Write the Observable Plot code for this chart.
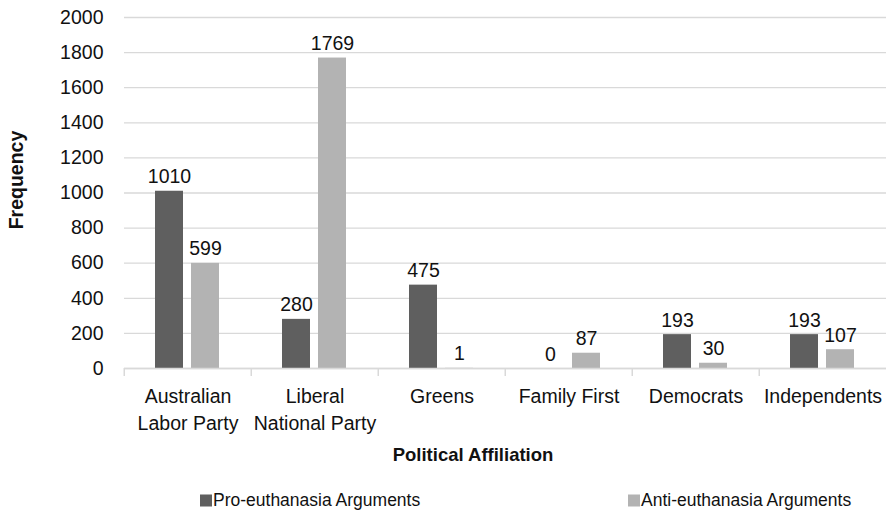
<!DOCTYPE html>
<html>
<head>
<meta charset="utf-8">
<script src="https://cdn.jsdelivr.net/npm/d3@7"></script>
<script src="https://cdn.jsdelivr.net/npm/@observablehq/plot@0.6"></script>
<style>
  html, body { margin: 0; padding: 0; background: #fff; }
  #wrap { position: relative; width: 887px; height: 517px; font-family: "Liberation Sans", Arial, sans-serif; color: #111; }
  #chart svg { display: block; }
  .ylab { position: absolute; left: 16px; top: 180px; transform: translate(-50%, -50%) rotate(-90deg); font-weight: bold; font-size: 19.5px; white-space: nowrap; }
  .xlab { position: absolute; left: 473px; top: 455px; transform: translate(-50%, -50%); font-weight: bold; font-size: 18.5px; white-space: nowrap; }
  .leg { position: absolute; top: 500px; transform: translateY(-50%); display: flex; align-items: center; font-size: 17.5px; white-space: nowrap; }
  .leg span.sw { display: inline-block; width: 12px; height: 12px; margin-right: 1px; }
</style>
</head>
<body>
<div id="wrap">
  <div id="chart"></div>
  <div class="ylab" id="ylab"></div>
  <div class="xlab" id="xlab"></div>
  <div id="legend"></div>
</div>
<script>
const parties = ["Australian Labor Party", "Liberal National Party", "Greens", "Family First", "Democrats", "Independents"];
const partyLabels = ["Australian\nLabor Party", "Liberal\nNational Party", "Greens", "Family First", "Democrats", "Independents"];
const series = ["Pro-euthanasia Arguments", "Anti-euthanasia Arguments"];
const proValues = [1010, 280, 475, 0, 193, 193];
const antiValues = [599, 1769, 1, 87, 30, 107];
const yTicks = [0, 200, 400, 600, 800, 1000, 1200, 1400, 1600, 1800, 2000];
const colors = ["#5f5f5f", "#b3b3b3"];
const yTitle = "Frequency";
const xTitle = "Political Affiliation";

const data = parties.flatMap((p, i) => [
  {party: p, series: series[0], value: proValues[i]},
  {party: p, series: series[1], value: antiValues[i]}
]);

const chart = Plot.plot({
  width: 887,
  height: 440,
  marginLeft: 122,
  marginRight: 0,
  marginTop: 17,
  marginBottom: 72,
  style: {fontFamily: "'Liberation Sans', Arial, sans-serif", fontSize: "19.5px", color: "#111", background: "white"},
  fx: {domain: parties, padding: 0, label: null},
  x: {domain: series, paddingInner: 0.216, paddingOuter: 0.838, axis: null},
  y: {domain: [0, 2000], label: null},
  color: {domain: series, range: colors},
  marks: [
    Plot.gridY(yTicks, {stroke: "#d9d9d9", strokeOpacity: 1, strokeWidth: 1.3}),
    Plot.axisY(yTicks, {tickSize: 0, tickPadding: 21, label: null, fontSize: 19.5, fill: "#111", tickFormat: d => String(d)}),
    Plot.axisFx({anchor: "bottom", tickSize: 0, tickPadding: 15, label: null, fontSize: 19.5, lineHeight: 1.4, fill: "#111",
      tickFormat: p => partyLabels[parties.indexOf(p)]}),
    Plot.axisFx({anchor: "bottom", tickSize: 8, text: null, label: null, stroke: "#d9d9d9", strokeWidth: 1.5, strokeOpacity: 1, dx: -63.75}),
    Plot.barY(data, {fx: "party", x: "series", y: "value", fill: "series"}),
    Plot.ruleY([0], {stroke: "#d9d9d9", strokeWidth: 1.5}),
    Plot.text(data, {fx: "party", x: "series", y: "value", text: d => String(d.value), lineAnchor: "bottom", dy: -8, fill: "#111", fontSize: 19.5})
  ]
});
document.getElementById("chart").appendChild(chart);
document.getElementById("ylab").textContent = yTitle;
document.getElementById("xlab").textContent = xTitle;

const legendLefts = [200, 628];
const legend = document.getElementById("legend");
series.forEach((s, i) => {
  const item = document.createElement("div");
  item.className = "leg";
  item.style.left = legendLefts[i] + "px";
  const sw = document.createElement("span");
  sw.className = "sw";
  sw.style.background = colors[i];
  item.appendChild(sw);
  item.appendChild(document.createTextNode(s));
  legend.appendChild(item);
});
</script>
</body>
</html>
